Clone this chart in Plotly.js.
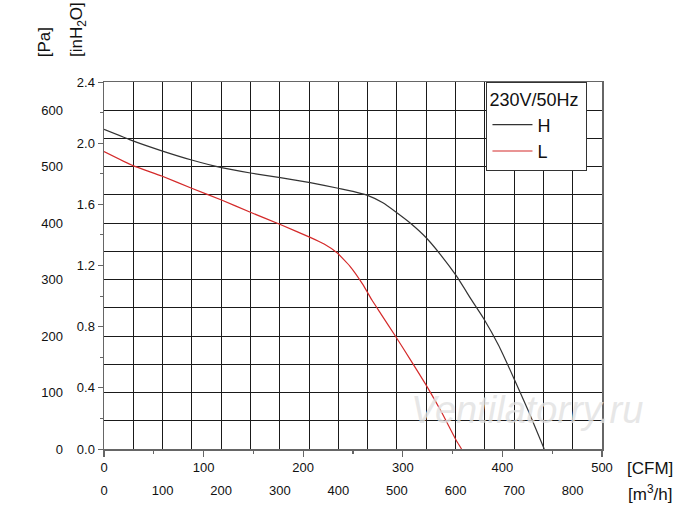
<!DOCTYPE html>
<html>
<head>
<meta charset="utf-8">
<script src="https://cdn.plot.ly/plotly-3.0.1.min.js"></script>
<style>
  html, body { margin: 0; padding: 0; background: #fff; }
  #chart { width: 700px; height: 523px; }
</style>
</head>
<body>
<div id="chart"></div>
<script>
/* fan curve, 230V/50Hz, H and L speeds */
const H_CFM   = [0, 29, 58, 88, 118, 147, 177, 207, 235, 250, 264, 280, 293, 308, 323, 338, 354, 369, 381, 396, 411, 426, 442];
const H_INH2O = [2.09, 2.015, 1.95, 1.89, 1.84, 1.805, 1.775, 1.742, 1.705, 1.685, 1.66, 1.61, 1.55, 1.475, 1.385, 1.27, 1.13, 0.975, 0.855, 0.68, 0.47, 0.25, 0];

const L_CFM   = [0, 29, 58, 88, 118, 147, 177, 207, 221, 234, 247, 260, 269, 278, 293, 308, 323, 339, 354, 359];
const L_INH2O = [1.945, 1.853, 1.785, 1.705, 1.628, 1.548, 1.468, 1.384, 1.34, 1.283, 1.195, 1.075, 0.974, 0.884, 0.734, 0.58, 0.423, 0.24, 0.052, 0];

/* axis ticks */
const CFM_TICKS  = [0, 100, 200, 300, 400, 500];
const M3H_TICKS  = [0, 50, 100, 150, 200, 250, 300, 350, 400, 450, 500, 550, 600, 650, 700, 750, 800, 850];
const M3H_LABELS = ['0', '', '100', '', '200', '', '300', '', '400', '', '500', '', '600', '', '700', '', '800', ''];
const INH2O_TICKS = [0, 0.4, 0.8, 1.2, 1.6, 2.0, 2.4];
const INH2O_LABELS = ['0.0', '0.4', '0.8', '1.2', '1.6', '2.0', '2.4'];
const PA_TICKS  = [0, 50, 100, 150, 200, 250, 300, 350, 400, 450, 500, 550, 600, 650];
const PA_LABELS = ['0', '', '100', '', '200', '', '300', '', '400', '', '500', '', '600', ''];

const FONT = 'Liberation Sans, Arial, Helvetica, sans-serif';
const GRID = '#1a1a1a';

const traces = [
  {
    // invisible carrier so the m3/h and Pa axes get drawn
    x: [M3H_TICKS[0]], y: [PA_TICKS[0]], mode: 'markers',
    marker: { opacity: 0 }, showlegend: false, hoverinfo: 'skip',
    xaxis: 'x2', yaxis: 'y2'
  },
  {
    x: H_CFM, y: H_INH2O, name: 'H', mode: 'lines',
    line: { color: '#333333', width: 1.2, shape: 'spline', smoothing: 0.4 },
    xaxis: 'x', yaxis: 'y', hoverinfo: 'x+y'
  },
  {
    x: L_CFM, y: L_INH2O, name: 'L', mode: 'lines',
    line: { color: '#d42a2a', width: 1.2, shape: 'spline', smoothing: 0.4 },
    xaxis: 'x', yaxis: 'y', hoverinfo: 'x+y'
  }
];

const layout = {
  width: 700, height: 523,
  margin: { l: 104, r: 98, t: 82, b: 74 },
  paper_bgcolor: '#fff', plot_bgcolor: '#fff',
  font: { family: FONT, size: 13, color: '#111' },
  showlegend: true,
  legend: {
    x: 0.768, xanchor: 'left', y: 1.0, yanchor: 'top',
    bgcolor: '#fff', bordercolor: '#333', borderwidth: 1,
    font: { size: 18, color: '#111' },
    title: { text: '230V/50Hz ', font: { size: 18 }, side: 'top' },
    tracegroupgap: 0, itemwidth: 40
  },
  xaxis: {
    range: [0, 500], tickvals: CFM_TICKS, ticktext: CFM_TICKS.map(String),
    showgrid: false, zeroline: false,
    showline: true, linecolor: '#666', linewidth: 1.5, mirror: true,
    ticks: 'outside', ticklen: 6, tickcolor: '#666', tickwidth: 1.2,
    minor: { dtick: 50, ticks: 'outside', ticklen: 3, tickcolor: '#666' },
    tickfont: { size: 13 }, fixedrange: true
  },
  xaxis2: {
    overlaying: 'x', side: 'bottom', anchor: 'y2',
    range: [0, 850], tickvals: M3H_TICKS, ticktext: M3H_LABELS,
    showgrid: true, gridcolor: GRID, gridwidth: 1,
    zeroline: false, showline: false, ticks: '',
    ticklabelstandoff: 32, tickfont: { size: 13 }, fixedrange: true
  },
  yaxis: {
    range: [0, 2.4], tickvals: INH2O_TICKS, ticktext: INH2O_LABELS,
    showgrid: false, zeroline: false,
    showline: true, linecolor: '#666', linewidth: 1.5, mirror: true,
    ticks: 'outside', ticklen: 5, tickcolor: '#666',
    minor: { dtick: 0.2, ticks: 'outside', ticklen: 3, tickcolor: '#666' },
    tickfont: { size: 13 }, fixedrange: true
  },
  yaxis2: {
    overlaying: 'y', side: 'left', anchor: 'x2',
    range: [0, 650], tickvals: PA_TICKS, ticktext: PA_LABELS,
    showgrid: true, gridcolor: GRID, gridwidth: 1,
    zeroline: false, showline: false, ticks: '',
    ticklabelstandoff: 40, tickfont: { size: 13 }, fixedrange: true
  },
  annotations: [
    { text: '[Pa]', xref: 'paper', yref: 'paper', x: -0.118, y: 1.109,
      xanchor: 'center', yanchor: 'middle',
      textangle: -90, showarrow: false, font: { size: 17 } },
    { text: '[inH<sub>2</sub>O]', xref: 'paper', yref: 'paper', x: -0.052, y: 1.142,
      xanchor: 'center', yanchor: 'middle',
      textangle: -90, showarrow: false, font: { size: 17 } },
    { text: '[CFM]', xref: 'paper', yref: 'paper', x: 1.096, y: -0.052,
      xanchor: 'center', yanchor: 'middle', showarrow: false, font: { size: 17 } },
    { text: '[m<sup>3</sup>/h]', xref: 'paper', yref: 'paper', x: 1.096, y: -0.12,
      xanchor: 'center', yanchor: 'middle', showarrow: false, font: { size: 17 } },
    { text: '<i>Ventilatorry.ru</i>', xref: 'paper', yref: 'paper', x: 0.85, y: 0.106,
      xanchor: 'center', yanchor: 'middle',
      showarrow: false, font: { size: 38, color: 'rgba(225,225,225,0.8)' } }
  ]
};

Plotly.newPlot('chart', traces, layout, { displayModeBar: false, staticPlot: true });
</script>
</body>
</html>
